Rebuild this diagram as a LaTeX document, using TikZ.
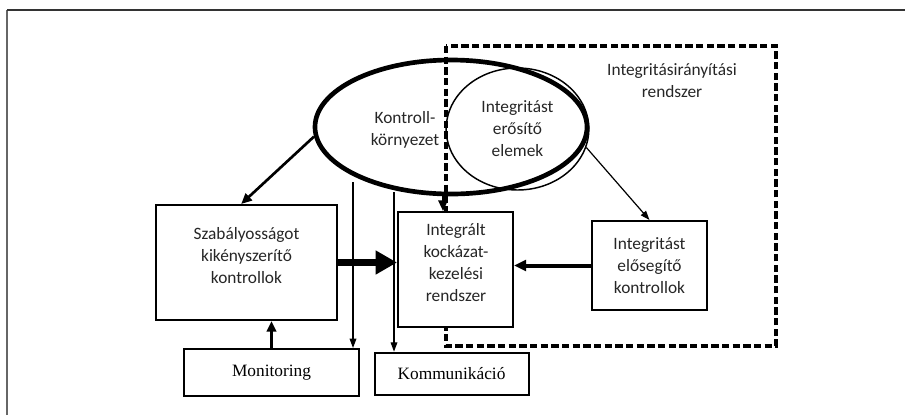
\documentclass[tikz,border=0pt]{standalone}
\usepackage{fontspec}
\setmainfont{Carlito}
\newfontfamily\timesfont{Liberation Serif}
\usetikzlibrary{arrows.meta,shapes.geometric}

\begin{document}
\begin{tikzpicture}[x=0.75pt, y=-0.75pt]
	\tikzset{box/.style = {shape=rectangle, draw, line width=1.5pt, fill=white, inner sep=0pt}}
	\tikzset{txt/.style = {align=center, text=black!85, font=\fontsize{13}{16.5}\selectfont}}
	\tikzset{thin edge/.style = {-{Triangle[length=7pt, width=5pt]}, line width=0.9pt}}
	\tikzset{mid edge/.style = {-{Triangle[length=8pt, width=7pt]}, line width=2pt}}
	\useasboundingbox (0,0) rectangle (905,415);
	\draw[black!60, line width=1.5pt] (7,415) -- (7,10);
	\draw[black!80, line width=1.5pt] (7,10) -- (905,10);
	% dashed frame
	\draw[line width=2.3pt, dash pattern=on 5.5pt off 2.5pt] (446,46) rectangle (776,346);
	\node[txt] (title) at (672,81) {Integritásirányítási\\rendszer};
	% ellipses
	\node[shape=ellipse, draw, line width=3.5pt, minimum width=204pt, minimum height=100.5pt] (ctrl) at (451,127) {};
	\node[txt] (ctrltxt) at (405,130) {Kontroll-\\környezet};
	\node[shape=ellipse, draw, line width=1.1pt, minimum width=107pt, minimum height=91.5pt, txt] (erosito) at (517.5,129) {Integritást\\erősítő\\elemek};
	% boxes
	\node[box, minimum width=135.75pt, minimum height=86.25pt] (szab) at (246.5,262.5) {};
	\node[txt] (szabtxt) at (246.5,255.5) {Szabályosságot\\kikényszerítő\\kontrollok};
	\node[box, minimum width=86.25pt, minimum height=86.25pt] (integr) at (455.5,269.5) {};
	\node[txt] (integrtxt) at (456,262.5) {Integrált\\kockázat-\\kezelési\\rendszer};
	\node[box, txt, minimum width=86.25pt, minimum height=66.75pt] (elo) at (649.5,265.5) {Integritást\\elősegítő\\kontrollok};
	\node[box, minimum width=131.25pt, minimum height=35.25pt, font=\timesfont\fontsize{13}{15}\selectfont] (moni) at (271.5,372.5) {Monitoring};
	\node[box, minimum width=115.5pt, minimum height=32pt, font=\timesfont\fontsize{13}{15}\selectfont] (komm) at (451.5,374) {Kommunikáció};
	% connectors
	\coordinate (m1) at (353,182);
	\coordinate (k1) at (394,192);
	\coordinate (i1) at (443,194);
	\draw[mid edge] (ctrl.184) -- ([xshift=-4pt]szab.north);
	\draw[thin edge] (m1) -- (m1 |- moni.north);
	\draw[thin edge] (k1) -- (k1 |- komm.north);
	\draw[mid edge, line width=1.6pt] (i1) -- (i1 |- integr.north);
	\draw[thin edge] (erosito.-15) -- (elo.north);
	\draw[-{Triangle[length=16pt, width=17pt]}, line width=5.25pt] (szab.east) -- (szab.east -| integr.west);
	\draw[-{Triangle[length=9pt, width=8pt]}, line width=3pt] (elo.west) -- (elo.west -| integr.east);
	\draw[mid edge] (moni.north) -- (moni.north |- szab.south);
\end{tikzpicture}
\end{document}
